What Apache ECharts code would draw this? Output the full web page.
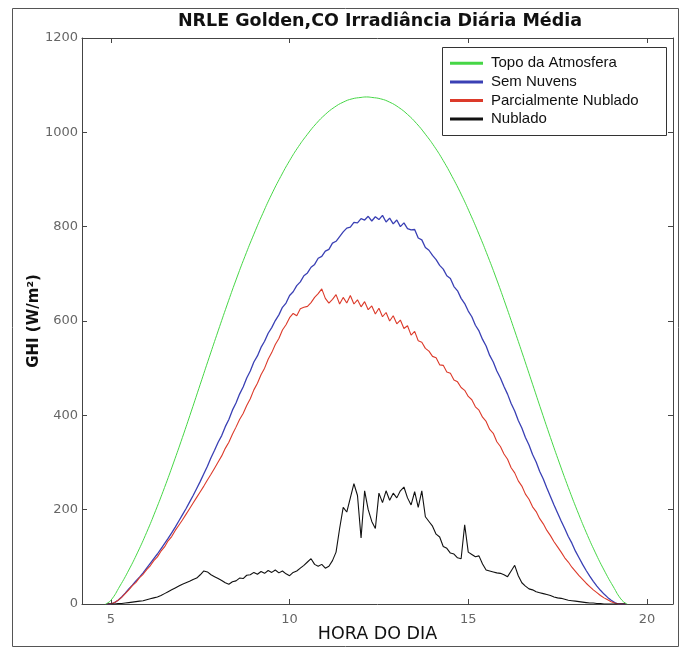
<!DOCTYPE html>
<html><head><meta charset="utf-8">
<script src="https://cdn.jsdelivr.net/npm/echarts@6/dist/echarts.min.js"></script>
<style>html,body{margin:0;padding:0;background:#fff}#c{width:682px;height:648px}</style>
</head><body><div id="c"></div>
<script>
const titleText = 'NRLE Golden,CO Irradiância Diária Média';
const seriesNames = ['Topo da Atmosfera', 'Sem Nuvens', 'Parcialmente Nublado', 'Nublado'];
const xTicks = [5, 10, 15, 20];

// Topo da Atmosfera (hours, W/m2)
const hoursTopo = [4.85,5.0,5.25,5.5,5.75,6.0,6.25,6.5,6.75,7.0,7.25,7.5,7.75,8.0,8.25,8.5,8.75,9.0,9.25,9.5,9.75,10.0,10.25,10.5,10.75,11.0,11.25,11.5,11.75,12.0,12.15,12.3,12.55,12.8,13.05,13.3,13.55,13.8,14.05,14.3,14.55,14.8,15.05,15.3,15.55,15.8,16.05,16.3,16.55,16.8,17.05,17.3,17.55,17.8,18.05,18.3,18.55,18.8,19.05,19.3,19.45];
const topoAtmosfera = [0,8,38,72,110,152,198,247,299,353,409,466,523,579,634,687,737,784,828,869,906,940,970,996,1019,1038,1053,1064,1071,1074,1075,1074,1071,1064,1053,1038,1019,996,970,940,906,869,828,784,737,687,634,579,523,466,409,353,299,247,198,152,110,72,38,8,0];

// 0.1 h grid starting at 4.9 h for the three measured series
const semNuvens = [0,0,3,8,15,23,32,40,49,57,
  66,76,86,96,106,117,128,139,151,163,
  176,189,202,216,230,245,260,276,292,310,
  326,343,357,376,391,411,426,445,460,479,
  494,513,526,544,557,574,586,601,613,629,
  638,654,662,675,683,696,702,714,720,733,
  737,748,752,765,769,779,789,797,799,809,
  808,817,814,822,812,821,815,824,810,818,
  806,814,800,808,796,793,794,776,772,756,
  750,739,730,718,710,696,690,673,664,648,
  637,621,609,591,579,561,547,527,513,494,
  479,461,445,425,409,389,373,353,337,317,
  301,281,265,246,228,210,193,176,160,143,
  129,112,98,84,71,59,48,38,29,21,
  14,8,3,0,0,0];
const parcialmenteNublado = [0,0,3,8,14,22,30,39,46,56,
  63,73,81,92,100,112,121,134,143,156,
  167,178,190,202,214,226,238,250,263,275,
  288,301,314,330,343,360,375,391,404,421,
  435,454,468,486,500,519,533,550,563,581,
  592,607,616,611,626,629,631,639,650,658,
  668,648,638,646,656,636,650,638,654,636,
  645,630,641,624,632,615,627,609,618,600,
  611,594,602,584,590,570,578,558,555,542,
  536,525,522,507,506,492,489,475,471,459,
  453,440,433,418,411,396,387,370,362,344,
  334,318,307,289,278,261,250,233,222,206,
  196,181,170,156,145,132,121,110,98,89,
  78,69,60,52,44,37,30,24,18,13,
  9,5,2,0,0,0];
const nublado = [0,0,0,1,1,2,3,4,5,6,
  7,9,11,13,15,18,22,26,30,34,
  38,42,45,48,52,55,62,70,68,62,
  58,54,50,45,42,47,49,55,54,61,
  62,67,63,69,65,71,67,72,66,70,
  64,60,67,70,76,82,89,96,84,80,
  84,76,80,92,110,160,205,195,225,255,
  230,140,240,200,175,160,235,215,240,220,
  235,225,240,248,225,210,238,205,240,185,
  175,165,148,142,122,118,108,106,98,96,
  168,110,105,100,102,85,72,70,68,66,
  65,62,58,70,82,60,45,38,32,30,
  26,24,22,20,18,15,13,12,10,8,
  7,6,5,4,3,2,2,1,1,0,
  0,0,0,0,0,0];

const hours = [];
for (let i = 0; i < semNuvens.length; i++) hours.push(Math.round((4.9 + 0.1 * i) * 10) / 10);
const pairs = (xs, ys) => ys.map((v, i) => [xs[i], v]);

const colors = ['#46d646', '#3a40b4', '#dc3a2a', '#111111'];
const chart = echarts.init(document.getElementById('c'), null, {renderer: 'canvas'});
const mk = (name, xs, ys, c, w, smooth) => ({
  name, type: 'line', data: pairs(xs, ys), showSymbol: false, symbol: 'none', smooth: smooth || false,
  lineStyle: {color: c, width: w}, itemStyle: {color: c}, animation: false, z: 3
});
const tickStyle = {show: true, inside: true, length: 5, lineStyle: {color: '#444'}, customValues: xTicks};
chart.setOption({
  animation: false,
  backgroundColor: '#fff',
  title: {text: titleText, left: 375, textAlign: 'center', top: 7,
    textStyle: {fontFamily: 'DejaVu Sans', fontWeight: 'bold', fontSize: 17.5, color: '#111'}},
  grid: {left: 82, right: 9, top: 38, bottom: 44, containLabel: false},
  legend: {
    orient: 'vertical', left: 450, top: 54, padding: 0, itemGap: 0,
    itemWidth: 33, itemHeight: 3, icon: 'rect',
    textStyle: {fontFamily: 'Liberation Sans', fontSize: 15, color: '#111', lineHeight: 18.6, padding: [0, 0, 0, 3]},
    data: seriesNames
  },
  xAxis: [{
    type: 'value', min: 4.19, max: 20.73,
    name: 'HORA DO DIA', nameLocation: 'middle', nameGap: 21, nameMoveOverlap: false,
    nameTextStyle: {fontFamily: 'DejaVu Sans', fontSize: 17.5, color: '#111'},
    axisLine: {show: true, onZero: false, lineStyle: {color: '#444'}},
    axisTick: tickStyle,
    axisLabel: {customValues: xTicks, color: '#666', fontFamily: 'DejaVu Sans', fontSize: 13, margin: 9},
    splitLine: {show: false}
  }, {
    type: 'value', min: 4.19, max: 20.73, position: 'top',
    axisLine: {show: true, onZero: false, lineStyle: {color: '#444'}},
    axisTick: tickStyle, axisLabel: {show: false}, splitLine: {show: false}
  }],
  yAxis: [{
    type: 'value', min: 0, max: 1200, interval: 200,
    name: 'GHI (W/m²)', nameLocation: 'middle', nameGap: 40, nameMoveOverlap: false,
    nameTextStyle: {fontFamily: 'DejaVu Sans', fontWeight: 'bold', fontSize: 15, color: '#111'},
    axisLine: {show: true, onZero: false, lineStyle: {color: '#444'}},
    axisTick: {show: true, inside: true, length: 5, lineStyle: {color: '#444'}},
    axisLabel: {color: '#666', fontFamily: 'DejaVu Sans', fontSize: 13, margin: 4, formatter: v => String(v)},
    splitLine: {show: false}
  }, {
    type: 'value', min: 0, max: 1200, interval: 200, position: 'right',
    axisLine: {show: true, onZero: false, lineStyle: {color: '#444'}},
    axisTick: {show: true, inside: true, length: 5, lineStyle: {color: '#444'}},
    axisLabel: {show: false}, splitLine: {show: false}
  }],
  graphic: [
    {type: 'rect', shape: {x: 12.5, y: 8.5, width: 666, height: 638}, style: {fill: 'none', stroke: '#555', lineWidth: 1}, silent: true},
    {type: 'rect', shape: {x: 442.5, y: 47.5, width: 224, height: 88}, style: {fill: 'none', stroke: '#333', lineWidth: 1}, silent: true}
  ],
  series: [
    mk(seriesNames[0], hoursTopo, topoAtmosfera, colors[0], 1, true),
    mk(seriesNames[1], hours, semNuvens, colors[1], 1.3),
    mk(seriesNames[2], hours, parcialmenteNublado, colors[2], 1.1),
    mk(seriesNames[3], hours, nublado, colors[3], 1.1)
  ]
});
</script></body></html>
